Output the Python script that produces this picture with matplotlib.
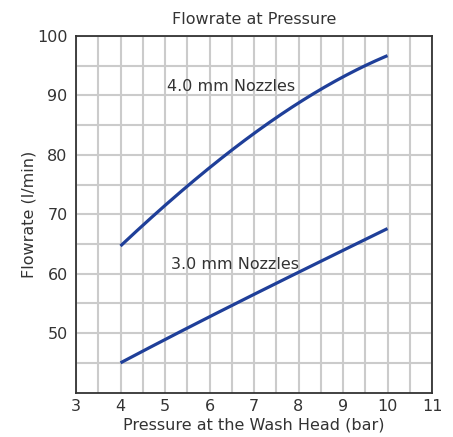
import matplotlib
matplotlib.use("Agg")
import matplotlib.pyplot as plt
import numpy as np

pressure = [4, 5, 6, 7, 8, 9, 10]
flow_4mm = [64.8, 71.1, 78.0, 83.8, 88.7, 92.9, 96.8]
flow_3mm = [45.0, 48.9, 52.7, 56.6, 60.2, 63.9, 67.6]
x_ticks = [3, 4, 5, 6, 7, 8, 9, 10, 11]
y_ticks = [50, 60, 70, 80, 90, 100]
label_4mm = "4.0 mm Nozzles"
label_3mm = "3.0 mm Nozzles"

txt = "#333333"
blue = "#1f3f99"
grid = "#cbcbcb"
fs = 11.5

fig = plt.figure(figsize=(4.53, 4.37), dpi=100)
ax = fig.add_axes([76/453, 1-392.5/437, (432-76)/453, (392.5-36)/437])

def smooth(xs, ys):
    xs = np.asarray(xs, float); ys = np.asarray(ys, float)
    c = np.polyfit(xs, ys, 3)
    xx = np.linspace(xs[0], xs[-1], 200)
    return xx, np.polyval(c, xx)

for ys in (flow_4mm, flow_3mm):
    xx, yy = smooth(pressure, ys)
    ax.plot(xx, yy, color=blue, lw=2.3, solid_capstyle="butt", zorder=3)

ax.set_xlim(3, 11)
ax.set_ylim(40, 100)
ax.set_xticks(x_ticks)
ax.set_yticks(y_ticks)
ax.set_xticks(np.arange(3.5, 11, 0.5), minor=True)
ax.set_yticks(np.arange(45, 100, 5), minor=True)
ax.grid(True, which="both", color=grid, lw=1.5)
ax.set_axisbelow(True)
ax.tick_params(which="both", length=0, colors=txt, labelsize=fs)
ax.tick_params(axis="y", pad=6)
ax.tick_params(axis="x", pad=5)
for s in ax.spines.values():
    s.set_color("#333333")
    s.set_linewidth(1.3)

ax.text(5.05, 91.5, label_4mm, color=txt, fontsize=fs, va="center", ha="left")
ax.text(5.13, 61.5, label_3mm, color=txt, fontsize=fs, va="center", ha="left")

ax.set_xlabel("Pressure at the Wash Head (bar)", color=txt, fontsize=fs, labelpad=2)
ax.set_ylabel("Flowrate (l/min)", color=txt, fontsize=fs)
ax.yaxis.set_label_coords(-0.11, 0.5)
ax.set_title("Flowrate at Pressure", color=txt, fontsize=fs, pad=9)

fig.savefig("out.png", dpi=100)
